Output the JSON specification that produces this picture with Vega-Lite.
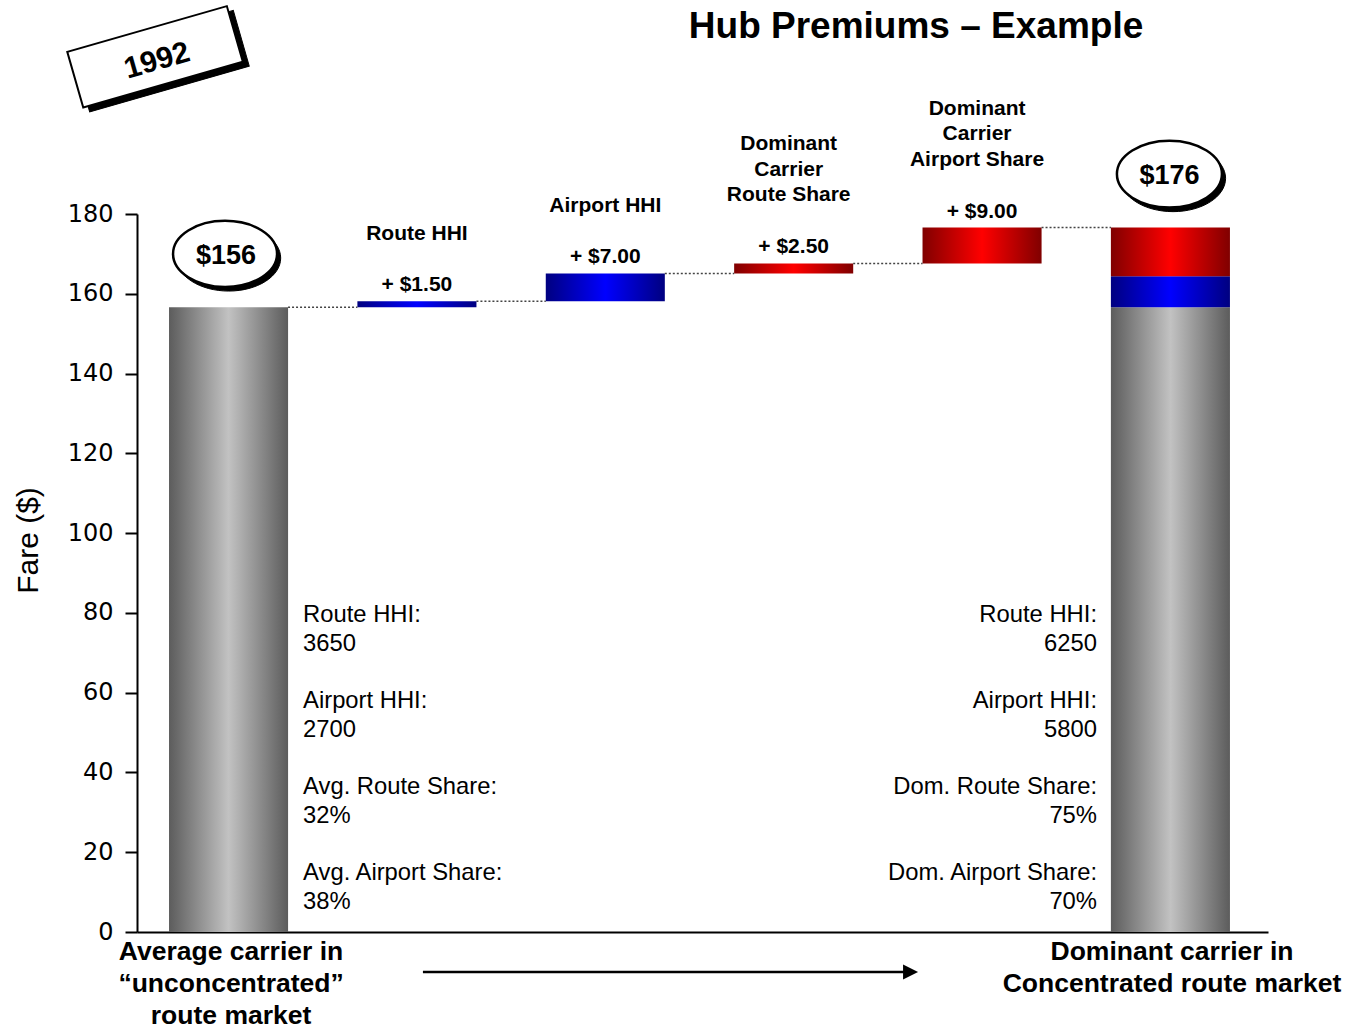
{
  "$schema": "https://vega.github.io/schema/vega-lite/v6.json",
  "autosize": {"type": "none"},
  "width": 1131,
  "height": 718,
  "padding": {"left": 137, "top": 214, "right": 77, "bottom": 97},
  "background": "white",
  "config": {
    "font": "Liberation Sans",
    "view": {"stroke": null},
    "axisX": {"domain": true, "domainColor": "black", "domainWidth": 2, "ticks": false, "labels": false, "title": null, "grid": false},
    "axisY": {"domain": true, "domainColor": "black", "domainWidth": 2, "ticks": true, "tickColor": "black", "tickWidth": 2, "tickSize": 12, "labelFont": "DejaVu Sans", "labelFontSize": 24, "labelColor": "black", "labelPadding": 12, "grid": false, "titleFont": "Liberation Sans", "titleFontSize": 30, "titleFontWeight": "normal", "titleColor": "black", "titleAngle": -90, "titleX": -109, "titleY": 326, "titleBaseline": "middle", "titleAlign": "center"}
  },
  "datasets": {
    "bars": [
      {"step": "Average carrier", "from": 0, "to": 156.6, "tone": "gray"},
      {"step": "Route HHI", "from": 156.6, "to": 158.1, "tone": "blue", "amount": "+ $1.50", "name": ["Route HHI"]},
      {"step": "Airport HHI", "from": 158.1, "to": 165.1, "tone": "blue", "amount": "+ $7.00", "name": ["Airport HHI"]},
      {"step": "Dominant Carrier Route Share", "from": 165.1, "to": 167.6, "tone": "red", "amount": "+ $2.50", "name": ["Dominant", "Carrier", "Route Share"]},
      {"step": "Dominant Carrier Airport Share", "from": 167.6, "to": 176.6, "tone": "red", "amount": "+ $9.00", "name": ["Dominant", "Carrier", "Airport Share"]},
      {"step": "Dominant carrier", "from": 0, "to": 156.6, "tone": "gray"},
      {"step": "Dominant carrier", "from": 156.6, "to": 164.4, "tone": "blue"},
      {"step": "Dominant carrier", "from": 164.4, "to": 176.6, "tone": "red"}
    ],
    "connectors": [
      {"from": "Average carrier", "to": "Route HHI", "level": 156.6},
      {"from": "Route HHI", "to": "Airport HHI", "level": 158.1},
      {"from": "Airport HHI", "to": "Dominant Carrier Route Share", "level": 165.1},
      {"from": "Dominant Carrier Route Share", "to": "Dominant Carrier Airport Share", "level": 167.6},
      {"from": "Dominant Carrier Airport Share", "to": "Dominant carrier", "level": 176.6}
    ]
  },
  "encoding": {
    "x": {"scale": {"type": "band", "domain": ["Average carrier", "Route HHI", "Airport HHI", "Dominant Carrier Route Share", "Dominant Carrier Airport Share", "Dominant carrier"], "paddingInner": 0.368, "paddingOuter": 0.186, "align": 0.457}}
  },
  "layer": [
    {
      "data": {"name": "connectors"},
      "mark": {"type": "rule", "stroke": "#444444", "strokeWidth": 1.5, "strokeDash": [2, 2], "xOffset": 59.5, "x2Offset": -59.5},
      "encoding": {
        "x": {"field": "from", "type": "nominal"},
        "x2": {"field": "to"},
        "y": {"field": "level", "type": "quantitative"}
      }
    },
    {
      "data": {"name": "bars"},
      "transform": [{"filter": "datum.tone === 'gray'"}],
      "mark": {"type": "bar", "color": {"gradient": "linear", "stops": [{"offset": 0, "color": "#5c5c5c"}, {"offset": 0.5, "color": "#c2c2c2"}, {"offset": 1, "color": "#5c5c5c"}]}},
      "encoding": {
        "x": {"field": "step", "type": "nominal"},
        "y": {"field": "from", "type": "quantitative", "scale": {"domain": [0, 180], "nice": false}, "axis": {"values": [0, 20, 40, 60, 80, 100, 120, 140, 160, 180]}, "title": "Fare ($)"},
        "y2": {"field": "to"}
      }
    },
    {
      "data": {"name": "bars"},
      "transform": [{"filter": "datum.tone === 'blue'"}],
      "mark": {"type": "bar", "color": {"gradient": "linear", "stops": [{"offset": 0, "color": "#000080"}, {"offset": 0.5, "color": "#0000ff"}, {"offset": 1, "color": "#000080"}]}},
      "encoding": {
        "x": {"field": "step", "type": "nominal"},
        "y": {"field": "from", "type": "quantitative"},
        "y2": {"field": "to"}
      }
    },
    {
      "data": {"name": "bars"},
      "transform": [{"filter": "datum.tone === 'red'"}],
      "mark": {"type": "bar", "color": {"gradient": "linear", "stops": [{"offset": 0, "color": "#800000"}, {"offset": 0.5, "color": "#ff0000"}, {"offset": 1, "color": "#800000"}]}},
      "encoding": {
        "x": {"field": "step", "type": "nominal"},
        "y": {"field": "from", "type": "quantitative"},
        "y2": {"field": "to"}
      }
    },
    {
      "data": {"name": "bars"},
      "transform": [{"filter": "isValid(datum.amount)"}],
      "mark": {"type": "text", "font": "Liberation Sans", "fontWeight": "bold", "fontSize": 21, "color": "black", "baseline": "middle", "align": "center", "yOffset": -16},
      "encoding": {
        "x": {"field": "step", "type": "nominal"},
        "y": {"field": "to", "type": "quantitative"},
        "text": {"field": "amount"}
      }
    },
    {
      "data": {"name": "bars"},
      "transform": [{"filter": "isValid(datum.amount) && length(datum.name) === 1"}],
      "mark": {"type": "text", "font": "Liberation Sans", "fontWeight": "bold", "fontSize": 21, "color": "black", "baseline": "middle", "align": "center", "lineHeight": 25.5, "yOffset": -67},
      "encoding": {
        "x": {"field": "step", "type": "nominal"},
        "y": {"field": "to", "type": "quantitative"},
        "text": {"field": "name"}
      }
    },
    {
      "data": {"name": "bars"},
      "transform": [{"filter": "isValid(datum.amount) && length(datum.name) === 3"}],
      "mark": {"type": "text", "font": "Liberation Sans", "fontWeight": "bold", "fontSize": 21, "color": "black", "baseline": "middle", "align": "center", "lineHeight": 25.5, "yOffset": -119, "xOffset": -5},
      "encoding": {
        "x": {"field": "step", "type": "nominal"},
        "y": {"field": "to", "type": "quantitative"},
        "text": {"field": "name"}
      }
    },
    {
      "data": {"values": [{"t": "Hub Premiums – Example"}]},
      "mark": {"type": "text", "font": "Liberation Sans", "fontWeight": "bold", "fontSize": 37, "color": "black", "baseline": "middle", "align": "center", "xOffset": -66},
      "encoding": {
        "x": {"datum": "Dominant Carrier Airport Share"},
        "y": {"datum": 226.9},
        "text": {"field": "t"}
      }
    },
    {
      "data": {"values": [{"t": "1992"}]},
      "mark": {"type": "point", "shape": "M-0.94,-0.277L1.06,-0.277L1.06,0.421L-0.94,0.421Z", "size": 27556, "filled": true, "fill": "black", "stroke": "black", "strokeWidth": 1, "opacity": 1, "angle": -16, "xOffset": -73.5},
      "encoding": {"x": {"datum": "Average carrier"}, "y": {"datum": 219.4}}
    },
    {
      "data": {"values": [{"t": "1992"}]},
      "mark": {"type": "point", "shape": "M-1,-0.349L1,-0.349L1,0.349L-1,0.349Z", "size": 27556, "filled": true, "fill": "white", "stroke": "black", "strokeWidth": 2, "opacity": 1, "angle": -16, "xOffset": -73.5},
      "encoding": {"x": {"datum": "Average carrier"}, "y": {"datum": 219.4}}
    },
    {
      "data": {"values": [{"t": "1992"}]},
      "mark": {"type": "text", "font": "Liberation Sans", "fontWeight": "bold", "fontSize": 30, "color": "black", "baseline": "middle", "align": "center", "angle": -16, "xOffset": -71.5},
      "encoding": {"x": {"datum": "Average carrier"}, "y": {"datum": 218.4}, "text": {"field": "t"}}
    },
    {
      "data": {"values": [{"t": "$156"}]},
      "mark": {"type": "point", "shape": "M-0.93,0.08C-0.93,-0.271,-0.482,-0.555,0.07,-0.555C0.622,-0.555,1.07,-0.271,1.07,0.08C1.07,0.431,0.622,0.715,0.07,0.715C-0.482,0.715,-0.93,0.431,-0.93,0.08Z", "size": 10816, "filled": true, "fill": "black", "stroke": "black", "strokeWidth": 1, "opacity": 1, "xOffset": -3.5},
      "encoding": {"x": {"datum": "Average carrier"}, "y": {"datum": 170.0}}
    },
    {
      "data": {"values": [{"t": "$156"}]},
      "mark": {"type": "point", "shape": "M-1,0C-1,-0.351,-0.552,-0.635,0,-0.635C0.552,-0.635,1,-0.351,1,0C1,0.351,0.552,0.635,0,0.635C-0.552,0.635,-1,0.351,-1,0Z", "size": 10816, "filled": true, "fill": "white", "stroke": "black", "strokeWidth": 2.5, "opacity": 1, "xOffset": -3.5},
      "encoding": {"x": {"datum": "Average carrier"}, "y": {"datum": 170.0}}
    },
    {
      "data": {"values": [{"t": "$156"}]},
      "mark": {"type": "text", "font": "Liberation Sans", "fontWeight": "bold", "fontSize": 27, "color": "black", "baseline": "middle", "align": "center", "xOffset": -2.5},
      "encoding": {"x": {"datum": "Average carrier"}, "y": {"datum": 169.5}, "text": {"field": "t"}}
    },
    {
      "data": {"values": [{"t": "$176"}]},
      "mark": {"type": "point", "shape": "M-0.93,0.08C-0.93,-0.271,-0.482,-0.555,0.07,-0.555C0.622,-0.555,1.07,-0.271,1.07,0.08C1.07,0.431,0.622,0.715,0.07,0.715C-0.482,0.715,-0.93,0.431,-0.93,0.08Z", "size": 11025, "filled": true, "fill": "black", "stroke": "black", "strokeWidth": 1, "opacity": 1, "xOffset": -1},
      "encoding": {"x": {"datum": "Dominant carrier"}, "y": {"datum": 190.0}}
    },
    {
      "data": {"values": [{"t": "$176"}]},
      "mark": {"type": "point", "shape": "M-1,0C-1,-0.351,-0.552,-0.635,0,-0.635C0.552,-0.635,1,-0.351,1,0C1,0.351,0.552,0.635,0,0.635C-0.552,0.635,-1,0.351,-1,0Z", "size": 11025, "filled": true, "fill": "white", "stroke": "black", "strokeWidth": 2.5, "opacity": 1, "xOffset": -1},
      "encoding": {"x": {"datum": "Dominant carrier"}, "y": {"datum": 190.0}}
    },
    {
      "data": {"values": [{"t": "$176"}]},
      "mark": {"type": "text", "font": "Liberation Sans", "fontWeight": "bold", "fontSize": 27, "color": "black", "baseline": "middle", "align": "center", "xOffset": -1},
      "encoding": {"x": {"datum": "Dominant carrier"}, "y": {"datum": 189.5}, "text": {"field": "t"}}
    },
    {
      "data": {"values": [{"t": ["Route HHI:", "3650"]}]},
      "mark": {"type": "text", "font": "Liberation Sans", "fontSize": 23.8, "color": "black", "baseline": "middle", "align": "left", "lineHeight": 28.7, "xOffset": 74.5},
      "encoding": {"x": {"datum": "Average carrier"}, "y": {"datum": 79.47}, "text": {"field": "t"}}
    },
    {
      "data": {"values": [{"t": ["Airport HHI:", "2700"]}]},
      "mark": {"type": "text", "font": "Liberation Sans", "fontSize": 23.8, "color": "black", "baseline": "middle", "align": "left", "lineHeight": 28.7, "xOffset": 74.5},
      "encoding": {"x": {"datum": "Average carrier"}, "y": {"datum": 57.91}, "text": {"field": "t"}}
    },
    {
      "data": {"values": [{"t": ["Avg. Route Share:", "32%"]}]},
      "mark": {"type": "text", "font": "Liberation Sans", "fontSize": 23.8, "color": "black", "baseline": "middle", "align": "left", "lineHeight": 28.7, "xOffset": 74.5},
      "encoding": {"x": {"datum": "Average carrier"}, "y": {"datum": 36.35}, "text": {"field": "t"}}
    },
    {
      "data": {"values": [{"t": ["Avg. Airport Share:", "38%"]}]},
      "mark": {"type": "text", "font": "Liberation Sans", "fontSize": 23.8, "color": "black", "baseline": "middle", "align": "left", "lineHeight": 28.7, "xOffset": 74.5},
      "encoding": {"x": {"datum": "Average carrier"}, "y": {"datum": 14.79}, "text": {"field": "t"}}
    },
    {
      "data": {"values": [{"t": ["Route HHI:", "6250"]}]},
      "mark": {"type": "text", "font": "Liberation Sans", "fontSize": 23.8, "color": "black", "baseline": "middle", "align": "right", "lineHeight": 28.7, "xOffset": -73.4},
      "encoding": {"x": {"datum": "Dominant carrier"}, "y": {"datum": 79.47}, "text": {"field": "t"}}
    },
    {
      "data": {"values": [{"t": ["Airport HHI:", "5800"]}]},
      "mark": {"type": "text", "font": "Liberation Sans", "fontSize": 23.8, "color": "black", "baseline": "middle", "align": "right", "lineHeight": 28.7, "xOffset": -73.4},
      "encoding": {"x": {"datum": "Dominant carrier"}, "y": {"datum": 57.91}, "text": {"field": "t"}}
    },
    {
      "data": {"values": [{"t": ["Dom. Route Share:", "75%"]}]},
      "mark": {"type": "text", "font": "Liberation Sans", "fontSize": 23.8, "color": "black", "baseline": "middle", "align": "right", "lineHeight": 28.7, "xOffset": -73.4},
      "encoding": {"x": {"datum": "Dominant carrier"}, "y": {"datum": 36.35}, "text": {"field": "t"}}
    },
    {
      "data": {"values": [{"t": ["Dom. Airport Share:", "70%"]}]},
      "mark": {"type": "text", "font": "Liberation Sans", "fontSize": 23.8, "color": "black", "baseline": "middle", "align": "right", "lineHeight": 28.7, "xOffset": -73.4},
      "encoding": {"x": {"datum": "Dominant carrier"}, "y": {"datum": 14.79}, "text": {"field": "t"}}
    },
    {
      "data": {"values": [{"t": ["Average carrier in", "“unconcentrated”", "route market"]}]},
      "mark": {"type": "text", "font": "Liberation Sans", "fontWeight": "bold", "fontSize": 26.5, "color": "black", "baseline": "middle", "align": "center", "lineHeight": 32, "xOffset": 2.5},
      "encoding": {"x": {"datum": "Average carrier"}, "y": {"datum": -5.01}, "text": {"field": "t"}}
    },
    {
      "data": {"values": [{"t": ["Dominant carrier in", "Concentrated route market"]}]},
      "mark": {"type": "text", "font": "Liberation Sans", "fontWeight": "bold", "fontSize": 26.5, "color": "black", "baseline": "middle", "align": "center", "lineHeight": 32, "xOffset": 1.6},
      "encoding": {"x": {"datum": "Dominant carrier"}, "y": {"datum": -5.01}, "text": {"field": "t"}}
    },
    {
      "data": {"values": [{"t": "arrow"}]},
      "mark": {"type": "rule", "stroke": "black", "strokeWidth": 2.5, "xOffset": 6, "x2Offset": -76},
      "encoding": {"x": {"datum": "Route HHI"}, "x2": {"datum": "Dominant Carrier Airport Share"}, "y": {"datum": -10.03}}
    },
    {
      "data": {"values": [{"t": "arrow"}]},
      "mark": {"type": "point", "shape": "M-1,-1L1,0L-1,1Z", "size": 225, "filled": true, "fill": "black", "opacity": 1, "xOffset": -71.5},
      "encoding": {"x": {"datum": "Dominant Carrier Airport Share"}, "y": {"datum": -10.03}}
    }
  ]
}
